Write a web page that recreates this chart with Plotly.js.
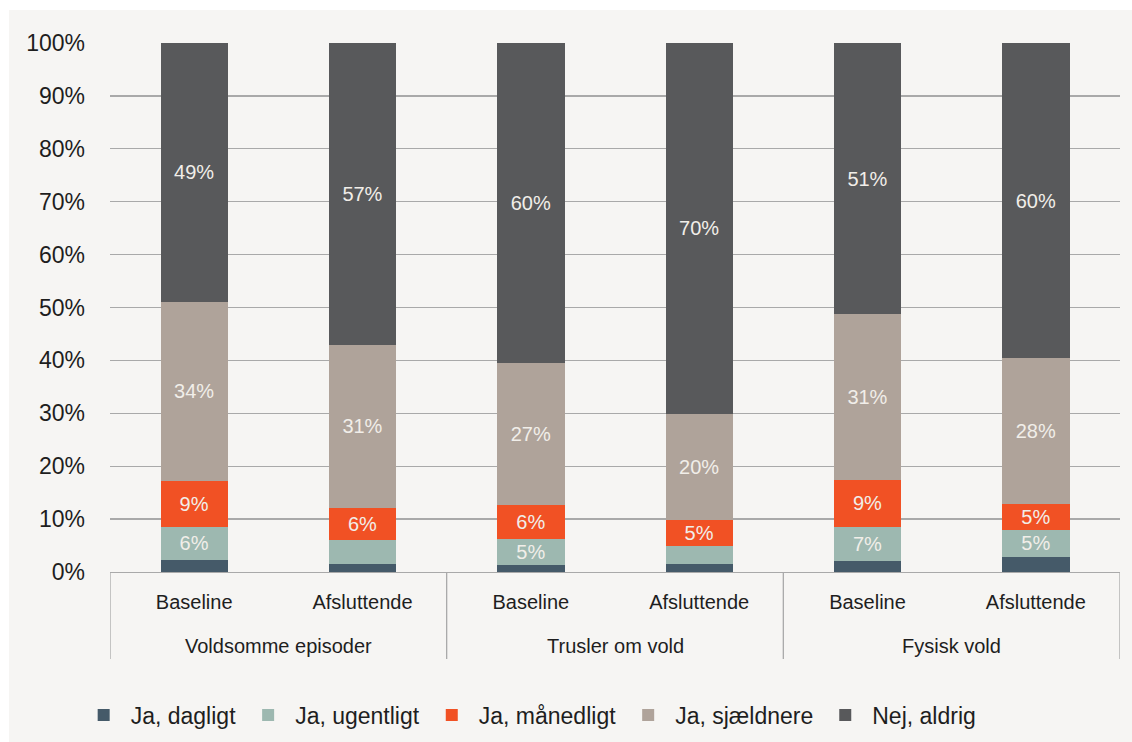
<!DOCTYPE html>
<html>
<head>
<meta charset="utf-8">
<script src="https://cdn.plot.ly/plotly-3.0.1.min.js"></script>
<style>
html,body{margin:0;padding:0;background:#ffffff;}
#chart{position:absolute;left:9px;top:10px;width:1123px;height:732px;}
</style>
</head>
<body>
<div id="chart"></div>
<script>
// Categories
var groupNames = ['Voldsomme episoder','Trusler om vold','Fysisk vold'];
var groups = ['Voldsomme episoder','Voldsomme episoder','Trusler om vold','Trusler om vold','Fysisk vold','Fysisk vold'];
var periods = ['Baseline','Afsluttende','Baseline','Afsluttende','Baseline','Afsluttende'];

// Series values (percent)
var dagligt     = [2.2, 1.5, 1.3, 1.5, 2.0, 2.8];
var ugentligt   = [6.4, 4.5, 5.0, 3.5, 6.6, 5.2];
var maanedligt  = [8.6, 6.1, 6.4, 4.9, 8.7, 4.9];
var sjaeldnere  = [33.9, 30.9, 26.9, 20.0, 31.4, 27.5];
var nejAldrig   = [48.9, 57.0, 60.4, 70.1, 51.3, 59.6];

// Data labels as shown
var dagligtLabels    = ['', '', '', '', '', ''];
var ugentligtLabels  = ['6%', '', '5%', '', '7%', '5%'];
var maanedligtLabels = ['9%', '6%', '6%', '5%', '9%', '5%'];
var sjaeldnereLabels = ['34%', '31%', '27%', '20%', '31%', '28%'];
var nejLabels        = ['49%', '57%', '60%', '70%', '51%', '60%'];

var seriesNames = ['Ja, dagligt','Ja, ugentligt','Ja, månedligt','Ja, sjældnere','Nej, aldrig'];
var yTickVals = [0,10,20,30,40,50,60,70,80,90,100];
var yTickText = ['0%','10%','20%','30%','40%','50%','60%','70%','80%','90%','100%'];

// styles
var seriesColors = ['#455a69','#9db8b0','#f15124','#afa39a','#58595b'];

var catIds = groups.map(function(g, i){ return g + ' | ' + periods[i]; });

var values = [dagligt, ugentligt, maanedligt, sjaeldnere, nejAldrig];
var labels = [dagligtLabels, ugentligtLabels, maanedligtLabels, sjaeldnereLabels, nejLabels];

var FONT = '"Liberation Sans", Arial, Helvetica, sans-serif';
var TXT = '#1e1e1e';
var LINE = '#a9a9a9';

var traces = values.map(function(v, i){
  return {
    type: 'bar',
    name: seriesNames[i],
    x: catIds,
    y: v,
    text: labels[i],
    textposition: 'inside',
    insidetextanchor: 'middle',
    textangle: 0,
    textfont: {family: FONT, size: 20, color: '#f1eee9'},
    marker: {color: seriesColors[i], line: {width: 0}},
    hoverinfo: 'skip'
  };
});

// group dividers and group labels
var nPerGroup = 2;
var plotH = 529;
var shapes = [];
for (var k = 0; k <= groupNames.length; k++) {
  var xb = k * nPerGroup - 0.5;
  shapes.push({type: 'line', xref: 'x', yref: 'paper', x0: xb, x1: xb, y0: 0, y1: -87 / plotH,
               line: {color: LINE, width: 1.3}});
}
var annotations = groupNames.map(function(g, k){
  return {xref: 'x', yref: 'paper', x: k * nPerGroup + (nPerGroup - 1) / 2, y: -74 / plotH,
          yanchor: 'middle', xanchor: 'center', text: g, showarrow: false,
          font: {family: FONT, size: 20, color: TXT}};
});

var layout = {
  barmode: 'stack',
  bargap: 0.6,
  paper_bgcolor: '#f6f5f3',
  plot_bgcolor: '#f6f5f3',
  margin: {l: 101, r: 12, t: 33, b: 170, autoexpand: false},
  font: {family: FONT, size: 20, color: TXT},
  showlegend: true,
  uniformtext: {mode: 'show', minsize: 20},
  xaxis: {
    type: 'category',
    automargin: false,
    tickvals: catIds,
    ticktext: periods,
    range: [-0.5, catIds.length - 0.5],
    showgrid: false,
    showline: true,
    linecolor: LINE,
    linewidth: 1.3,
    ticks: '',
    ticklabelstandoff: 12,
    tickfont: {family: FONT, size: 20, color: TXT},
    zeroline: false,
    fixedrange: true
  },
  yaxis: {
    range: [0, 100],
    automargin: false,
    tickvals: yTickVals,
    ticktext: yTickText,
    showgrid: true,
    gridcolor: LINE,
    gridwidth: 1.3,
    zeroline: false,
    showline: false,
    ticks: '',
    ticklabelstandoff: 24,
    tickfont: {family: FONT, size: 23, color: TXT},
    fixedrange: true
  },
  shapes: shapes,
  annotations: annotations,
  legend: {
    orientation: 'h',
    x: -0.033,
    xanchor: 'left',
    y: -0.2703,
    yanchor: 'middle',
    traceorder: 'normal',
    font: {family: FONT, size: 23, color: TXT},
    bgcolor: 'rgba(0,0,0,0)',
    itemwidth: 44
  }
};

Plotly.newPlot('chart', traces, layout, {displayModeBar: false, staticPlot: true});
</script>
</body>
</html>
